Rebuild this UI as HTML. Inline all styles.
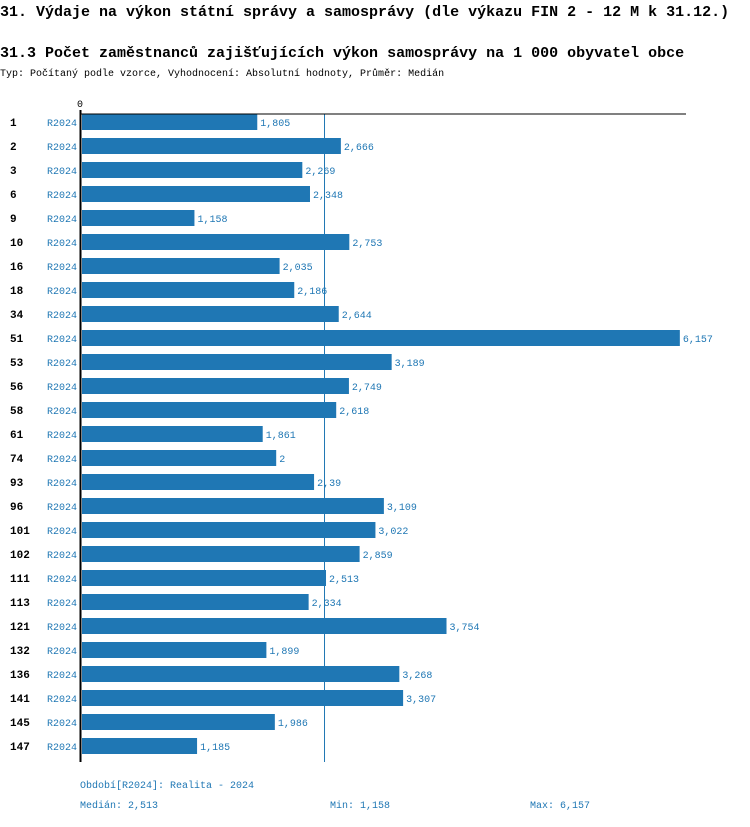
<!DOCTYPE html>
<html><head><meta charset="utf-8"><style>
body{margin:0;background:#fff;width:750px;height:822px;overflow:hidden;font-family:"Liberation Mono",monospace;}
</style></head><body>
<svg width="750" height="822" xmlns="http://www.w3.org/2000/svg" font-family="Liberation Mono, monospace">
<text x="0" y="16" font-size="15" font-weight="bold" fill="#000">31. Výdaje na výkon státní správy a samosprávy (dle výkazu FIN 2 - 12 M k 31.12.)</text>
<text x="0" y="57" font-size="15" font-weight="bold" fill="#000">31.3 Počet zaměstnanců zajišťujících výkon samosprávy na 1 000 obyvatel obce</text>
<text x="0" y="76" font-size="10" fill="#000">Typ: Počítaný podle vzorce, Vyhodnocení: Absolutní hodnoty, Průměr: Medián</text>
<text x="77" y="107" font-size="10" fill="#000">0</text>
<line id="med" y1="114" y2="762" stroke="#1f77b4" stroke-width="1"/>
<g id="bars"></g>
<line x1="80" y1="114" x2="686" y2="114" stroke="#000" stroke-width="1"/>
<line x1="80.5" y1="110" x2="80.5" y2="762" stroke="#000" stroke-width="2"/>
<text x="80" y="788" font-size="10" fill="#1f77b4">Období[R2024]: Realita - 2024</text>
<text x="80" y="808" font-size="10" fill="#1f77b4">Medián: 2,513</text>
<text x="330" y="808" font-size="10" fill="#1f77b4">Min: 1,158</text>
<text x="530" y="808" font-size="10" fill="#1f77b4">Max: 6,157</text>
</svg>
<script>
const categories=["1","2","3","6","9","10","16","18","34","51","53","56","58","61","74","93","96","101","102","111","113","121","132","136","141","145","147"];
const values=[1.805,2.666,2.269,2.348,1.158,2.753,2.035,2.186,2.644,6.157,3.189,2.749,2.618,1.861,2,2.39,3.109,3.022,2.859,2.513,2.334,3.754,1.899,3.268,3.307,1.986,1.185];
const valueLabels=["1,805","2,666","2,269","2,348","1,158","2,753","2,035","2,186","2,644","6,157","3,189","2,749","2,618","1,861","2","2,39","3,109","3,022","2,859","2,513","2,334","3,754","1,899","3,268","3,307","1,986","1,185"];
const median=2.513;
const NS="http://www.w3.org/2000/svg";
const x=v=>82+v*97.1;
const y=i=>122+i*24;
const g=document.getElementById('bars');
document.getElementById('med').setAttribute('x1',x(median)-1.5);
document.getElementById('med').setAttribute('x2',x(median)-1.5);
categories.forEach((c,i)=>{
 const t=document.createElementNS(NS,'text');
 
 
 t.setAttribute('x',10);t.setAttribute('y',y(i)+4);t.setAttribute('font-size','11');t.setAttribute('font-weight','bold');
 t.textContent=c;g.appendChild(t);
 const p=document.createElementNS(NS,'text');
 
 
 p.setAttribute('x',47);p.setAttribute('y',y(i)+4);p.setAttribute('font-size','10');p.setAttribute('fill','#1f77b4');
 p.textContent='R2024';g.appendChild(p);
 const r=document.createElementNS(NS,'rect');
 
 
 r.setAttribute('x',82);r.setAttribute('y',y(i)-8);r.setAttribute('width',x(values[i])-82);r.setAttribute('height',16);r.setAttribute('fill','#1f77b4');
 g.appendChild(r);
 const v=document.createElementNS(NS,'text');
 
 
 v.setAttribute('x',x(values[i])+3);v.setAttribute('y',y(i)+4);v.setAttribute('font-size','10');v.setAttribute('fill','#1f77b4');
 v.textContent=valueLabels[i];g.appendChild(v);
});
</script>
</body></html>
